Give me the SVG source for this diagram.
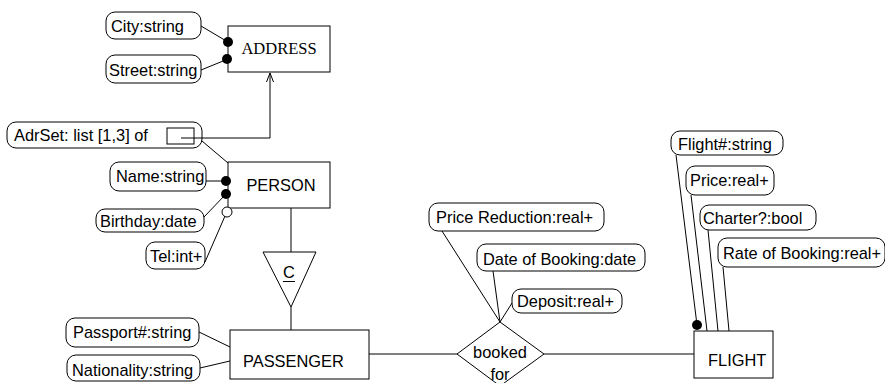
<svg xmlns="http://www.w3.org/2000/svg" width="885" height="383" viewBox="0 0 885 383">
<style>
.attr{fill:#fff;stroke:#000;stroke-width:1}
.ent{fill:#fff;stroke:#000;stroke-width:1}
.t{font-family:"Liberation Sans",Arial,sans-serif;font-size:16.4px;fill:#000}
.ts{font-family:"Liberation Serif","Times New Roman",serif;font-size:16.5px;fill:#000}
.ln{stroke:#000;stroke-width:1;fill:none}
.dot{fill:#000}
.odot{fill:#fff;stroke:#000;stroke-width:1}
</style>
<defs>
<marker id="arr" markerWidth="10" markerHeight="12" refX="5" refY="1" orient="0" markerUnits="userSpaceOnUse">
<path d="M1.5,10 L5,1 L8.5,10" fill="none" stroke="#000" stroke-width="1"/>
</marker>
</defs>
<rect width="885" height="383" fill="#fff"/>
<g id="address">
<rect class="ent" x="228" y="26" width="102" height="46"/>
<text class="ts" x="279" y="54" text-anchor="middle">ADDRESS</text>
</g>
<g id="city">
<rect class="attr" x="106" y="12" width="95" height="27" rx="9"/>
<text class="t" x="111" y="32">City:string</text>
</g>
<g id="street">
<rect class="attr" x="106" y="55" width="95" height="28" rx="9"/>
<text class="t" x="109" y="76">Street:string</text>
</g>
<g id="adrset">
<rect class="attr" x="7" y="122" width="195" height="26" rx="9"/>
<text class="t" x="14" y="141">AdrSet: list [1,3] of</text>
<rect x="167" y="128" width="27" height="16" fill="none" stroke="#000" stroke-width="1"/>
</g>
<g id="person">
<rect class="ent" x="228" y="162" width="102" height="46"/>
<text class="t" x="281" y="191" text-anchor="middle">PERSON</text>
</g>
<g id="name">
<rect class="attr" x="110" y="162" width="96" height="29" rx="9"/>
<text class="t" x="116" y="182">Name:string</text>
</g>
<g id="birthday">
<rect class="attr" x="96" y="209" width="108" height="23" rx="9"/>
<text class="t" x="100" y="227">Birthday:date</text>
</g>
<g id="tel">
<rect class="attr" x="146" y="242" width="59" height="27" rx="9"/>
<text class="t" x="150" y="262">Tel:int+</text>
</g>
<g id="isa">
<polygon points="263,252 316,252 291,307" fill="#fff" stroke="#000" stroke-width="1"/>
<text class="t" x="289" y="278" text-anchor="middle">C</text>
<line class="ln" x1="283" y1="281.5" x2="295" y2="281.5"/>
</g>
<g id="passenger">
<rect class="ent" x="230" y="330" width="139" height="49"/>
<text class="t" x="243" y="367">PASSENGER</text>
</g>
<g id="passport">
<rect class="attr" x="66" y="318" width="133" height="29" rx="9"/>
<text class="t" x="73" y="338">Passport#:string</text>
</g>
<g id="nationality">
<rect class="attr" x="67" y="355" width="133" height="26" rx="9"/>
<text class="t" x="72" y="376">Nationality:string</text>
</g>
<g id="booked">
<polygon points="457,354 500,322 544,354 500,386" fill="#fff" stroke="#000" stroke-width="1"/>
<text class="t" x="500" y="358" text-anchor="middle">booked</text>
<text class="t" x="500" y="380" text-anchor="middle">for</text>
</g>
<g id="pricered">
<rect class="attr" x="429" y="203" width="175" height="28" rx="9"/>
<text class="t" x="436" y="223">Price Reduction:real+</text>
</g>
<g id="dateofbooking">
<rect class="attr" x="477" y="244" width="168" height="27" rx="9"/>
<text class="t" x="483" y="265">Date of Booking:date</text>
</g>
<g id="deposit">
<rect class="attr" x="512" y="289" width="110" height="24" rx="9"/>
<text class="t" x="517" y="307">Deposit:real+</text>
</g>
<g id="flight">
<rect class="ent" x="694" y="331" width="79" height="47"/>
<text class="t" x="708" y="366">FLIGHT</text>
</g>
<g id="flightno">
<rect class="attr" x="671" y="131" width="112" height="24" rx="9"/>
<text class="t" x="678" y="150">Flight#:string</text>
</g>
<g id="price">
<rect class="attr" x="686" y="166" width="88" height="29" rx="9"/>
<text class="t" x="690" y="186">Price:real+</text>
</g>
<g id="charter">
<rect class="attr" x="700" y="205" width="116" height="25" rx="9"/>
<text class="t" x="703" y="224">Charter?:bool</text>
</g>
<g id="rate">
<rect class="attr" x="718" y="238" width="167" height="29" rx="9"/>
<text class="t" x="723" y="259">Rate of Booking:real+</text>
</g>
<g id="connectors">
<line class="ln" x1="201" y1="26" x2="228" y2="42"/>
<line class="ln" x1="201" y1="70" x2="228" y2="59"/>
<polyline class="ln" points="181,138 270,138 270,73" marker-end="url(#arr)"/>
<line class="ln" x1="202" y1="141" x2="228" y2="163"/>
<line class="ln" x1="206" y1="181" x2="226" y2="181"/>
<line class="ln" x1="204" y1="217" x2="226" y2="194"/>
<line class="ln" x1="205" y1="262" x2="225" y2="216"/>
<line class="ln" x1="291" y1="208" x2="291" y2="252"/>
<line class="ln" x1="291" y1="307" x2="291" y2="330"/>
<line class="ln" x1="199" y1="332" x2="230" y2="347"/>
<line class="ln" x1="200" y1="368" x2="230" y2="361"/>
<line class="ln" x1="369" y1="354" x2="457" y2="354"/>
<line class="ln" x1="544" y1="354" x2="694" y2="354"/>
<line class="ln" x1="442" y1="231" x2="500" y2="322"/>
<line class="ln" x1="493" y1="271" x2="500" y2="322"/>
<line class="ln" x1="512" y1="303" x2="500" y2="322"/>
<line class="ln" x1="676" y1="155" x2="697" y2="325"/>
<line class="ln" x1="691" y1="195" x2="707" y2="331"/>
<line class="ln" x1="708" y1="230" x2="718" y2="331"/>
<line class="ln" x1="723" y1="267" x2="729" y2="331"/>
</g>
<g id="dots">
<circle class="dot" cx="228" cy="42" r="5"/>
<circle class="dot" cx="227" cy="59" r="5"/>
<circle class="dot" cx="226" cy="181" r="5"/>
<circle class="dot" cx="226" cy="194" r="5"/>
<circle class="odot" cx="227" cy="212" r="5"/>
<circle class="dot" cx="697" cy="325" r="5"/>
</g>
</svg>
